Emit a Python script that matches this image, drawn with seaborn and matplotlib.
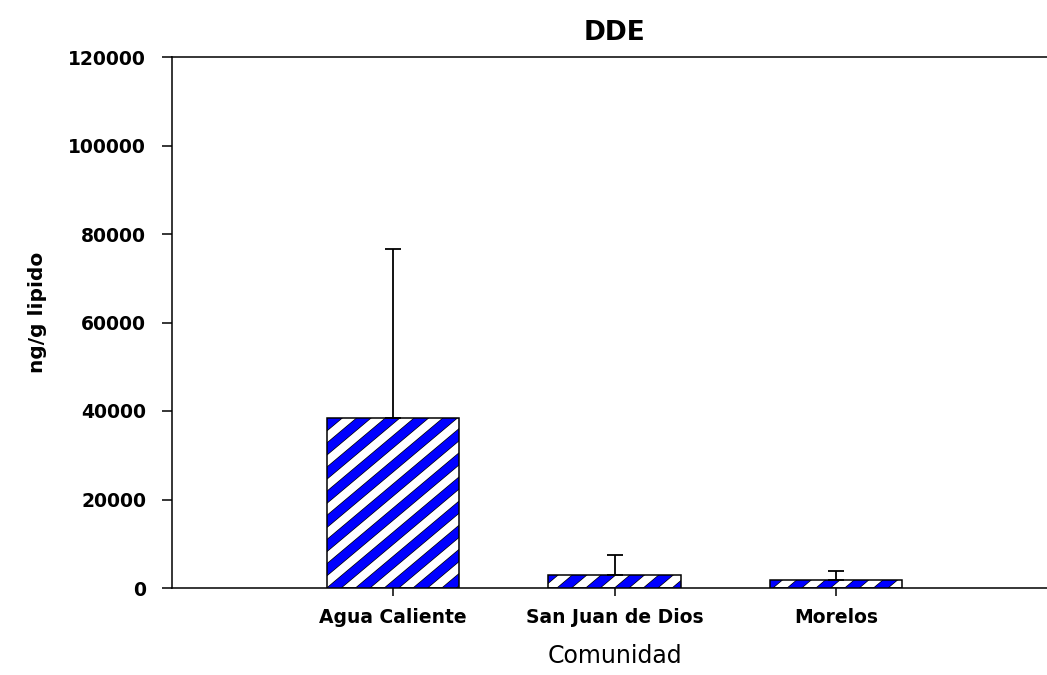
import numpy as np
import pandas as pd
import matplotlib
matplotlib.use("Agg")
import matplotlib.pyplot as plt
import seaborn as sns
from matplotlib.collections import LineCollection
from matplotlib.patches import Rectangle

# DDE in serum lipid by community (mean and upper SD)
comunidades = ["Agua Caliente", "San Juan de Dios", "Morelos"]
dde_media = [38500, 3000, 1700]
dde_de = [38000, 4500, 2100]
y_ticks = [0, 20000, 40000, 60000, 80000, 100000, 120000]

sns.set_style("ticks")
plt.rcParams["font.family"] = ["DejaVu Sans"]
plt.rcParams.update({
    "axes.linewidth": 1.1,
    "axes.edgecolor": "black",
    "text.color": "black",
    "axes.labelcolor": "black",
    "xtick.color": "black",
    "ytick.color": "black",
})

df = pd.DataFrame({"Comunidad": comunidades, "DDE": dde_media})

fig = plt.figure(figsize=(10.47, 6.75), dpi=100)
ax = fig.add_axes([171.5 / 1047, 87 / 675, 886 / 1047, 531 / 675])

sns.barplot(data=df, x="Comunidad", y="DDE", color="white", saturation=1,
            width=0.6, edgecolor="none", errorbar=None, ax=ax, zorder=2)

ax.set_xlim(-1, 3)
ax.set_ylim(0, 120000)
ax.set_yticks(y_ticks)
ax.set_yticklabels([str(v) for v in y_ticks])

# upper-only error bars
ax.errorbar(x=np.arange(len(comunidades)), y=dde_media,
            yerr=[np.zeros(len(dde_de)), dde_de], fmt="none",
            ecolor="black", elinewidth=1.3, capsize=6, capthick=1.3, zorder=5)

# diagonal blue/white stripe fill for each bar
fig.canvas.draw()
theta = np.deg2rad(40)
d = np.array([np.cos(theta), np.sin(theta)])
n = np.array([-np.sin(theta), np.cos(theta)])
period = 18.5
inv = ax.transData.inverted()
for patch in list(ax.patches):
    x0, y0 = patch.get_x(), patch.get_y()
    w, h = patch.get_width(), patch.get_height()
    corners = ax.transData.transform([(x0, y0), (x0 + w, y0), (x0, y0 + h), (x0 + w, y0 + h)])
    proj = corners @ n
    diag = np.hypot(*(corners[3] - corners[0])) + 50
    start = np.floor(proj.min() / period) * period
    segs = []
    for off in np.arange(start, proj.max() + period, period):
        base = corners[0] + n * (off - corners[0] @ n)
        p1 = base - d * diag
        p2 = base + d * diag
        segs.append(inv.transform([p1, p2]))
    for lw, col, z in [(7.3, "black", 3), (6.3, "#0000FF", 3.1)]:
        lc = LineCollection(segs, colors=col, linewidths=lw, capstyle="butt", zorder=z)
        ax.add_collection(lc, autolim=False)
        lc.set_clip_path(patch)
    ax.add_patch(Rectangle((x0, y0), w, h, fill=False, edgecolor="black",
                           linewidth=1.1, zorder=4))

sns.despine(ax=ax, top=False, right=False)
ax.tick_params(axis="y", direction="out", length=7.2, width=1.1, pad=11, labelsize=13.5)
ax.tick_params(axis="x", direction="out", length=5.5, width=1.1, pad=9, labelsize=13.5)
for lab in ax.get_xticklabels() + ax.get_yticklabels():
    lab.set_fontweight("bold")

ax.set_xlabel("Comunidad", fontsize=17, labelpad=12)
ax.set_ylabel("ng/g lipido", fontsize=14.5, fontweight="bold")
ax.yaxis.set_label_coords(-0.14, 0.52)
ax.set_title("DDE", fontsize=19, fontweight="bold", pad=12)

fig.savefig("out.png", dpi=100)
